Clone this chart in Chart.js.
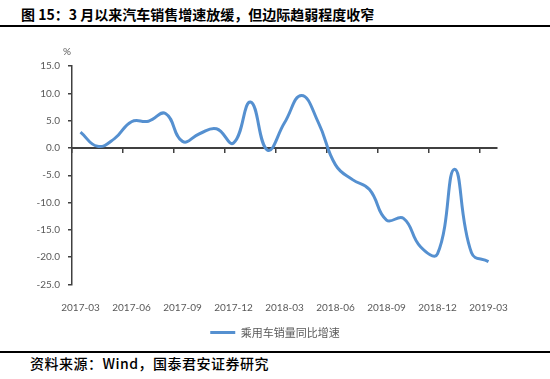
<!DOCTYPE html>
<html>
<head>
<meta charset="utf-8">
<script src="https://cdn.jsdelivr.net/npm/chart.js@4.4.1/dist/chart.umd.min.js"></script>
<style>
  html, body { margin: 0; padding: 0; background: #fff; }
  body { width: 550px; height: 379px; position: relative; overflow: hidden; }
  #title { position: absolute; left: 21px; top: 4px; font: bold 14px "Noto Sans CJK SC", sans-serif; letter-spacing: 0px; color: #000; line-height: 20px; white-space: nowrap; }
  #topline { position: absolute; left: 0; top: 25px; width: 550px; height: 2px; background: #000; }
  #wrap { position: absolute; left: 0; top: 28px; width: 550px; height: 322px; }
  #botline { position: absolute; left: 0; top: 351px; width: 550px; height: 2px; background: #000; }
  #source { position: absolute; left: 30px; top: 354px; font: 500 14px "Noto Sans CJK SC", sans-serif; letter-spacing: 0.5px; color: #000; line-height: 18px; white-space: nowrap; }
</style>
</head>
<body>
<div id="title">图 15：3 月以来汽车销售增速放缓，但边际趋弱程度收窄</div>
<div id="topline"></div>
<div id="wrap"><canvas id="c" width="550" height="322"></canvas></div>
<div id="botline"></div>
<div id="source">资料来源：Wind，国泰君安证券研究</div>
<script>
const categories = [
  "2017-03","2017-04","2017-05","2017-06","2017-07","2017-08","2017-09","2017-10","2017-11","2017-12",
  "2018-01","2018-02","2018-03","2018-04","2018-05","2018-06","2018-07","2018-08","2018-09","2018-10",
  "2018-11","2018-12","2019-01","2019-02","2019-03"
];
const seriesName = "乘用车销量同比增速";
const seriesValues = [
  2.9, 0.3, 1.7, 4.8, 4.9, 6.3, 1.2, 2.6, 3.5, 0.9,
  8.4, -0.4, 4.6, 9.6, 4.6, -3.1, -5.8, -7.6, -13.2, -12.9,
  -18.1, -19.4, -3.9, -19.2, -20.8
];
const yTicks = { min: -25, max: 15, step: 5 };
const yUnit = "%";

const axisColor = "#404040";
const labelColor = "#595959";
const lineColor = "#5590D0";
const tickFont = { family: "Lato, 'Liberation Sans', sans-serif", size: 10 };

const unitPlugin = {
  id: "unitLabel",
  afterDraw(chart) {
    const { ctx, chartArea } = chart;
    ctx.save();
    ctx.fillStyle = labelColor;
    ctx.font = "10px Lato, 'Liberation Sans', sans-serif";
    ctx.textAlign = "center";
    ctx.textBaseline = "middle";
    ctx.fillText(yUnit, chartArea.left - 5, chartArea.top - 14);
    ctx.restore();
  }
};

new Chart(document.getElementById("c"), {
  type: "line",
  data: {
    labels: categories,
    datasets: [{
      label: seriesName,
      data: seriesValues,
      borderColor: lineColor,
      backgroundColor: lineColor,
      borderWidth: 3,
      pointRadius: 0,
      pointHoverRadius: 0,
      tension: 0.45,
      fill: false,
      clip: false,
      xAxisID: "x",
      yAxisID: "y"
    }]
  },
  options: {
    responsive: false,
    animation: false,
    events: [],
    layout: { padding: { left: 0, right: 0, top: 38, bottom: 2 } },
    plugins: {
      tooltip: { enabled: false },
      legend: {
        position: "bottom",
        labels: {
          usePointStyle: true,
          pointStyle: "line",
          pointStyleWidth: 25,
          boxHeight: 3,
          color: labelColor,
          padding: 10,
          font: { family: "'Noto Sans CJK SC', sans-serif", size: 11 }
        }
      }
    },
    scales: {
      x: {
        type: "category",
        position: "bottom",
        offset: true,
        grid: { display: false },
        border: { display: false },
        ticks: {
          autoSkip: false,
          maxRotation: 0,
          padding: 9,
          color: labelColor,
          font: tickFont,
          callback: (v, i) => (i % 3 === 0 ? categories[i] : "")
        },
        afterFit: (s) => { s.height = 32.5; }
      },
      x2: {
        type: "category",
        position: { y: 0 },
        offset: true,
        grid: {
          offset: true,
          drawOnChartArea: false,
          drawTicks: true,
          tickLength: 4,
          lineWidth: 1.5,
          color: (ctx) => (ctx.index % 3 === 0 ? axisColor : "rgba(0,0,0,0)")
        },
        border: { display: true, color: axisColor, width: 2 },
        ticks: { display: false, autoSkip: false }
      },
      y: {
        type: "linear",
        min: yTicks.min,
        max: yTicks.max,
        ticks: {
          stepSize: yTicks.step,
          padding: 8,
          color: labelColor,
          font: tickFont,
          callback: (v) => Number(v).toFixed(1)
        },
        grid: { drawOnChartArea: false, drawTicks: true, tickLength: 4, color: axisColor, lineWidth: 1.5 },
        border: { display: true, color: axisColor, width: 1.5 },
        afterFit: (s) => { s.width = 72; }
      },
      yRight: {
        type: "linear",
        position: "right",
        min: yTicks.min,
        max: yTicks.max,
        grid: { display: false },
        border: { display: false },
        ticks: { display: false },
        afterFit: (s) => { s.width = 53; }
      }
    }
  },
  plugins: [unitPlugin]
});
</script>
</body>
</html>
